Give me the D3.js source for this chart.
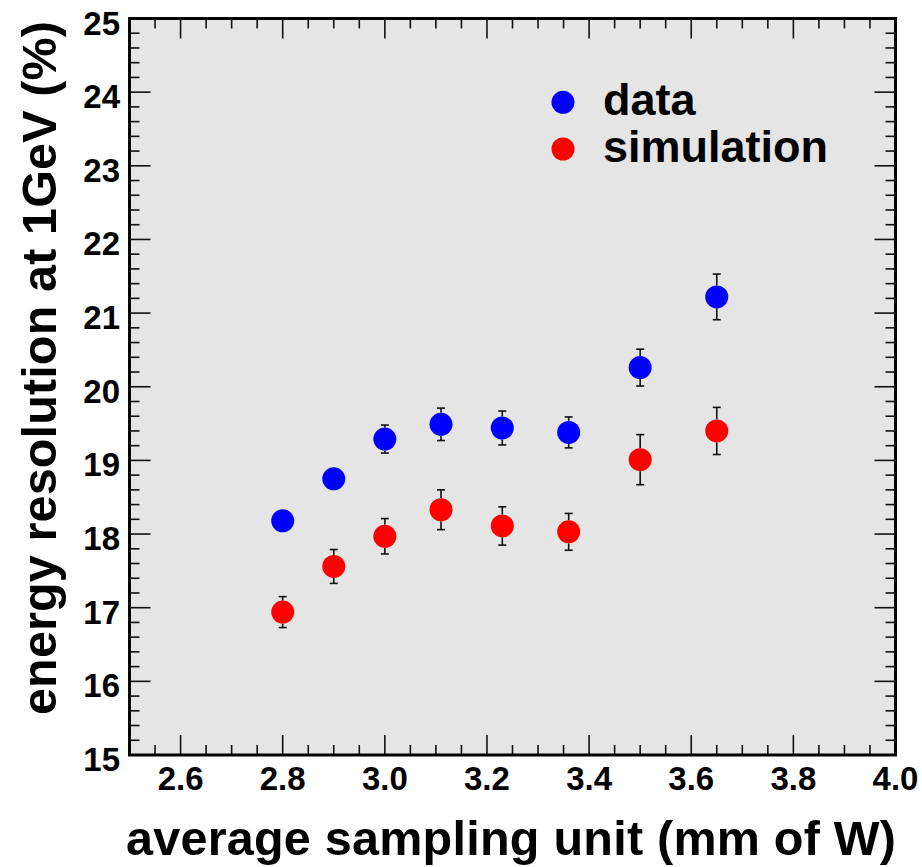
<!DOCTYPE html>
<html><head><meta charset="utf-8">
<script src="https://cdn.jsdelivr.net/npm/d3@7"></script>
<style>body{margin:0;background:#fff;} svg{display:block;}</style>
</head><body>
<svg id="c" width="922" height="867"></svg>
<script>
const xVals = [2.8, 2.9, 3.0, 3.11, 3.23, 3.36, 3.5, 3.65];
const dataVals = [18.18, 18.75, 19.29, 19.49, 19.44, 19.38, 20.26, 21.22];
const dataErr = [0.12, 0.12, 0.19, 0.22, 0.23, 0.21, 0.25, 0.31];
const simVals = [16.94, 17.56, 17.97, 18.33, 18.11, 18.03, 19.01, 19.40];
const simErr = [0.21, 0.23, 0.24, 0.27, 0.26, 0.25, 0.34, 0.32];
const xTickVals = [2.6, 2.8, 3.0, 3.2, 3.4, 3.6, 3.8, 4.0];
const yTickVals = [15, 16, 17, 18, 19, 20, 21, 22, 23, 24, 25];
const seriesNames = ["data", "simulation"];
const seriesColors = ["#0000ff", "#ff0000"];

const L = 129.5, R = 895.5, T = 18.5, B = 755;
const svg = d3.select("#c");
const x = d3.scaleLinear().domain([2.5, 4.0]).range([L, R]);
const y = d3.scaleLinear().domain([15, 25]).range([B, T]);
const font = "'Liberation Sans', Arial, Helvetica, sans-serif";

svg.append("rect").attr("x", L).attr("y", T).attr("width", R - L).attr("height", B - T).attr("fill", "#e5e5e5");

// ticks
const xMinor = d3.range(2.5, 4.0001, 0.05);
const yMinor = d3.range(15, 25.0001, 0.2);
const tg = svg.append("g").attr("stroke", "#111").attr("stroke-width", 1.6);
const isMajorX = v => xTickVals.some(t => Math.abs(t - v) < 1e-6);
const isMajorY = v => Math.abs(v - Math.round(v)) < 1e-6;
xMinor.forEach(v => {
  const len = isMajorX(v) ? 20 : 10;
  tg.append("line").attr("x1", x(v)).attr("x2", x(v)).attr("y1", B).attr("y2", B - len);
  tg.append("line").attr("x1", x(v)).attr("x2", x(v)).attr("y1", T).attr("y2", T + len);
});
yMinor.forEach(v => {
  const len = isMajorY(v) ? 21 : 10;
  tg.append("line").attr("y1", y(v)).attr("y2", y(v)).attr("x1", L).attr("x2", L + len);
  tg.append("line").attr("y1", y(v)).attr("y2", y(v)).attr("x1", R).attr("x2", R - len);
});

// error bars & points
function drawSeries(vals, errs, color) {
  const g = svg.append("g");
  const r = 11.5;
  vals.forEach((v, i) => {
    const cx = x(xVals[i]), cy = y(v);
    const yt = y(v + errs[i]), yb = y(v - errs[i]);
    if (cy - yt > r) {
      g.append("line").attr("x1", cx).attr("x2", cx).attr("y1", cy - r).attr("y2", yt).attr("stroke", "#111").attr("stroke-width", 1.6);
      g.append("line").attr("x1", cx - 4).attr("x2", cx + 4).attr("y1", yt).attr("y2", yt).attr("stroke", "#111").attr("stroke-width", 1.6);
    }
    if (yb - cy > r) {
      g.append("line").attr("x1", cx).attr("x2", cx).attr("y1", cy + r).attr("y2", yb).attr("stroke", "#111").attr("stroke-width", 1.6);
      g.append("line").attr("x1", cx - 4).attr("x2", cx + 4).attr("y1", yb).attr("y2", yb).attr("stroke", "#111").attr("stroke-width", 1.6);
    }
    g.append("circle").attr("cx", cx).attr("cy", cy).attr("r", r).attr("fill", color);
  });
}
drawSeries(dataVals, dataErr, seriesColors[0]);
drawSeries(simVals, simErr, seriesColors[1]);

// frame
svg.append("rect").attr("x", L).attr("y", T).attr("width", R - L).attr("height", B - T)
  .attr("fill", "none").attr("stroke", "#000").attr("stroke-width", 3);

// tick labels
svg.append("g").selectAll("text").data(xTickVals).join("text")
  .attr("x", d => x(d)).attr("y", 790).attr("text-anchor", "middle")
  .attr("font-family", font).attr("font-weight", "bold").attr("font-size", 33)
  .text(d => d.toFixed(1));
svg.append("g").selectAll("text").data(yTickVals).join("text")
  .attr("x", 120).attr("y", d => y(d) + 16).attr("text-anchor", "end")
  .attr("font-family", font).attr("font-weight", "bold").attr("font-size", 33)
  .text(d => d);

// axis titles
svg.append("text").attr("x", 896).attr("y", 855).attr("text-anchor", "end")
  .attr("font-family", font).attr("font-weight", "bold").attr("font-size", 48.5)
  .attr("textLength", 770).attr("lengthAdjust", "spacing")
  .text("average sampling unit (mm of W)");
svg.append("text").attr("transform", "translate(56,21) rotate(-90)").attr("text-anchor", "end")
  .attr("font-family", font).attr("font-weight", "bold").attr("font-size", 48.5)
  .attr("textLength", 694).attr("lengthAdjust", "spacing")
  .text("energy resolution at 1GeV (%)");

// legend
const legY = [102.3, 149];
seriesNames.forEach((n, i) => {
  svg.append("circle").attr("cx", 563).attr("cy", legY[i]).attr("r", 11.5).attr("fill", seriesColors[i]);
  svg.append("text").attr("x", 603).attr("y", legY[i] + 13)
    .attr("font-family", font).attr("font-weight", "bold").attr("font-size", 45).text(n);
});
</script>
</body></html>
